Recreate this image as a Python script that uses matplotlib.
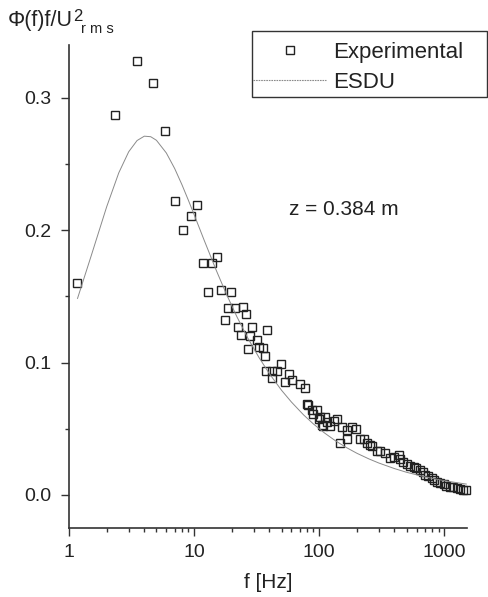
import matplotlib
matplotlib.use("Agg")
import matplotlib.pyplot as plt
from matplotlib.lines import Line2D
from matplotlib.patches import Rectangle
from matplotlib.ticker import FixedLocator, FormatStrFormatter, FuncFormatter, LogLocator, MultipleLocator, NullFormatter

plt.rcParams["font.family"] = ["Liberation Sans", "DejaVu Sans"]

# measured spectrum, z = 0.384 m
freq_exp = [1.165, 2.33, 3.48, 4.67, 5.86, 7.05, 8.12, 9.46, 10.5, 11.7,
            13.0, 14.0, 15.2, 16.4, 17.7, 18.5, 19.9, 21.3, 22.3, 23.6,
            24.8, 26.0, 27.2, 28.1, 29.3, 31.7, 32.8, 35.4, 36.6, 37.9,
            38.6, 41.8, 42.3, 45.9, 49.4, 53.5, 57.5, 61.2, 70.5, 77.3,
            80.1, 81.7, 87.4, 90.0, 95.9, 98.8, 101.9, 104.7, 108.2, 111.7,
            115.2, 122.5, 130.2, 138.6, 147.2, 151.9, 166.6, 168.0, 182.6, 197.7,
            212.8, 226.2, 240.8, 255.9, 265.5, 287.3, 307.6, 337.3, 369.8, 392.9,
            430.9, 444.6, 470.0, 503.0, 535.0, 568.0, 597.0, 643.0, 679.0, 705.0,
            745.0, 797.0, 832.0, 874.0, 929.0, 988.0, 1038.0, 1117.0, 1180.0, 1264.0,
            1343.0, 1419.0, 1500.0]
spec_exp = [0.160, 0.287, 0.328, 0.311, 0.275, 0.222, 0.200, 0.211, 0.219, 0.175,
            0.153, 0.175, 0.180, 0.155, 0.132, 0.141, 0.153, 0.141, 0.127, 0.121,
            0.142, 0.137, 0.110, 0.120, 0.127, 0.117, 0.112, 0.111, 0.105, 0.094,
            0.125, 0.094, 0.088, 0.094, 0.099, 0.085, 0.091, 0.087, 0.084, 0.081,
            0.069, 0.068, 0.064, 0.061, 0.064, 0.057, 0.059, 0.053, 0.052, 0.059,
            0.055, 0.052, 0.056, 0.057, 0.039, 0.051, 0.042, 0.049, 0.051, 0.050,
            0.042, 0.042, 0.039, 0.038, 0.037, 0.033, 0.033, 0.032, 0.028, 0.029,
            0.030, 0.027, 0.025, 0.023, 0.022, 0.021, 0.020, 0.019, 0.017, 0.015,
            0.014, 0.013, 0.011, 0.010, 0.009, 0.008, 0.007, 0.006, 0.006, 0.005,
            0.0045, 0.004, 0.004]

# ESDU reference spectrum
freq_esdu = [1.17, 1.5, 2.0, 2.5, 3.0, 3.5, 4.0, 4.5, 5.0, 6.0,
             7.0, 8.0, 9.0, 10.0, 12.0, 15.0, 18.0, 22.0, 27.0, 33.0,
             40.0, 50.0, 60.0, 75.0, 90.0, 110.0, 135.0, 165.0, 200.0, 250.0,
             300.0, 400.0, 500.0, 650.0, 800.0, 1000.0, 1250.0, 1500.0]
spec_esdu = [0.1485, 0.1803, 0.2177, 0.2434, 0.2593, 0.2678, 0.2711, 0.2707, 0.2680, 0.2584,
             0.2466, 0.2344, 0.2227, 0.2119, 0.1928, 0.1700, 0.1524, 0.1346, 0.1182, 0.1039,
             0.0916, 0.0791, 0.0702, 0.0605, 0.0536, 0.0469, 0.0409, 0.0358, 0.0315, 0.0272,
             0.0241, 0.0199, 0.0171, 0.0144, 0.0125, 0.0108, 0.0093, 0.0082]

x_ticks = [1, 10, 100, 1000]
y_ticks = [0.0, 0.1, 0.2, 0.3]

W, H = 489, 597
fig = plt.figure(figsize=(W / 100, H / 100), dpi=100)
ax = fig.add_axes([69 / W, 1 - 528 / H, 398 / W, 483 / H])

ink = "#333333"
txt = "#222222"
curve_col = "#8a8a8a"
ax.plot(freq_esdu, spec_esdu, color=curve_col, lw=0.7, zorder=3)
ax.plot(freq_exp, spec_exp, ls="none", marker="s", ms=5.8, mfc="none",
        mec="#222222", mew=1.0, clip_on=False, zorder=2)

ax.set_xscale("log")
ax.set_xlim(1, 1520)
ax.set_ylim(-0.025, 0.34)

ax.xaxis.set_major_locator(FixedLocator(x_ticks))
ax.xaxis.set_major_formatter(FuncFormatter(lambda v, _: f"{v:g}"))
ax.xaxis.set_minor_locator(LogLocator(base=10, subs=range(2, 10)))
ax.xaxis.set_minor_formatter(NullFormatter())
ax.yaxis.set_major_locator(FixedLocator(y_ticks))
ax.yaxis.set_major_formatter(FormatStrFormatter("%.1f"))
ax.yaxis.set_minor_locator(MultipleLocator(0.05))

for side in ("top", "right"):
    ax.spines[side].set_visible(False)
for side in ("left", "bottom"):
    ax.spines[side].set_linewidth(1.2)
    ax.spines[side].set_color(ink)

ax.tick_params(which="major", direction="out", length=5.5, width=1.0, color=ink,
               labelsize=14, labelcolor=txt)
ax.tick_params(which="minor", direction="out", length=3.2, width=1.0, color=ink)
ax.tick_params(axis="x", which="major", pad=6)
ax.tick_params(axis="y", which="major", pad=7)

ax.set_xlabel("f [Hz]", fontsize=15, color=txt, labelpad=9)

# y-axis quantity written at the top left: main part, then superscript and subscript
ylab = fig.text(8 / W, 1 - 26 / H, "Φ(f)f/U", fontsize=15.5, color=txt,
                ha="left", va="baseline")
fig.canvas.draw()
x_end = ylab.get_window_extent().x1
fig.text((x_end + 0.5) / W, 1 - 21 / H, "2", fontsize=12, color=txt,
         ha="left", va="baseline")
fig.text((x_end + 8) / W, 1 - 33 / H, "r m s", fontsize=10.5, color=txt,
         ha="left", va="baseline")

ax.text(0.69, 0.66, "z = 0.384 m", transform=ax.transAxes, fontsize=15,
        color=txt, ha="center", va="center")

# legend box drawn on its own so the entries can sit flush with its left edge
fig.add_artist(Rectangle((252 / W, 1 - 97 / H), 235 / W, 66 / H,
                         transform=fig.transFigure, fill=False, edgecolor=ink, lw=1.0))
h_exp = Line2D([], [], ls="none", marker="s", ms=5.8, mfc="none", mec="#222222", mew=1.0)
h_esdu = Line2D([], [], color=curve_col, lw=0.8, ls=(0, (1.5, 0.8)))
leg = ax.legend([h_exp, h_esdu], ["Experimental", "ESDU"], loc="upper left",
                bbox_to_anchor=(253 / W, 1 - 42 / H), bbox_transform=fig.transFigure,
                fontsize=16, frameon=False, borderpad=0, handlelength=3.3,
                handletextpad=0.3, labelspacing=0.4, borderaxespad=0, numpoints=1)
for t in leg.get_texts():
    t.set_color(txt)

fig.savefig("out.png", dpi=100)
